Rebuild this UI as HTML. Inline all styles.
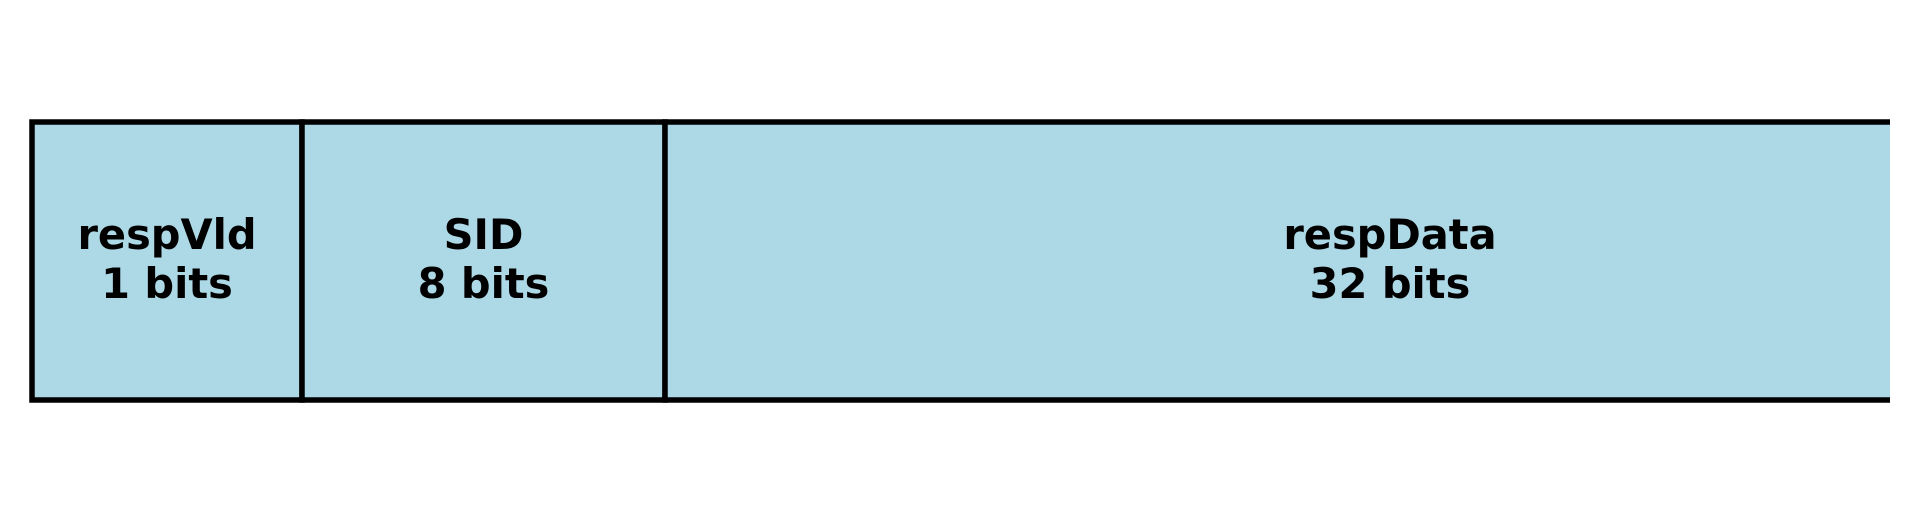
<!DOCTYPE html>
<html><head><meta charset="utf-8"><style>
html,body{margin:0;padding:0;background:#fff;width:1919px;height:522px;overflow:hidden}
svg text{font-family:"DejaVu Sans","Liberation Sans",sans-serif;font-weight:bold;font-size:41.5px;fill:#000}
</style></head><body>
<svg id="chart" width="1919" height="522" viewBox="0 0 1919 522" xmlns="http://www.w3.org/2000/svg">
<defs><clipPath id="clip"><rect x="0" y="0" width="1890" height="522"/></clipPath></defs>
<g id="fields" clip-path="url(#clip)"></g>
</svg>
<script>
const fieldNames = ["respVld", "SID", "respData"];
const fieldBits = [1, 8, 32];
const fieldWidths = [270, 363, 1450];
const x0 = 32, yTop = 122, yBot = 400;
const g = document.getElementById('fields');
const NS = 'http://www.w3.org/2000/svg';
let x = x0;
fieldNames.forEach((name, i) => {
  const w = fieldWidths[i];
  const r = document.createElementNS(NS, 'rect');
  r.setAttribute('x', x); r.setAttribute('y', yTop);
  r.setAttribute('width', w); r.setAttribute('height', yBot - yTop);
  r.setAttribute('fill', '#add8e6'); r.setAttribute('stroke', '#000'); r.setAttribute('stroke-width', '5.5');
  
  
  g.appendChild(r);
  const cx = x + w / 2;
  const t1 = document.createElementNS(NS, 'text');
  t1.setAttribute('x', cx); t1.setAttribute('y', 249); t1.setAttribute('text-anchor', 'middle');
  t1.textContent = name;
  
  
  g.appendChild(t1);
  const t2 = document.createElementNS(NS, 'text');
  t2.setAttribute('x', cx); t2.setAttribute('y', 298); t2.setAttribute('text-anchor', 'middle');
  t2.textContent = fieldBits[i] + ' bits';
  
  
  g.appendChild(t2);
  x += w;
});
</script>
</body></html>
